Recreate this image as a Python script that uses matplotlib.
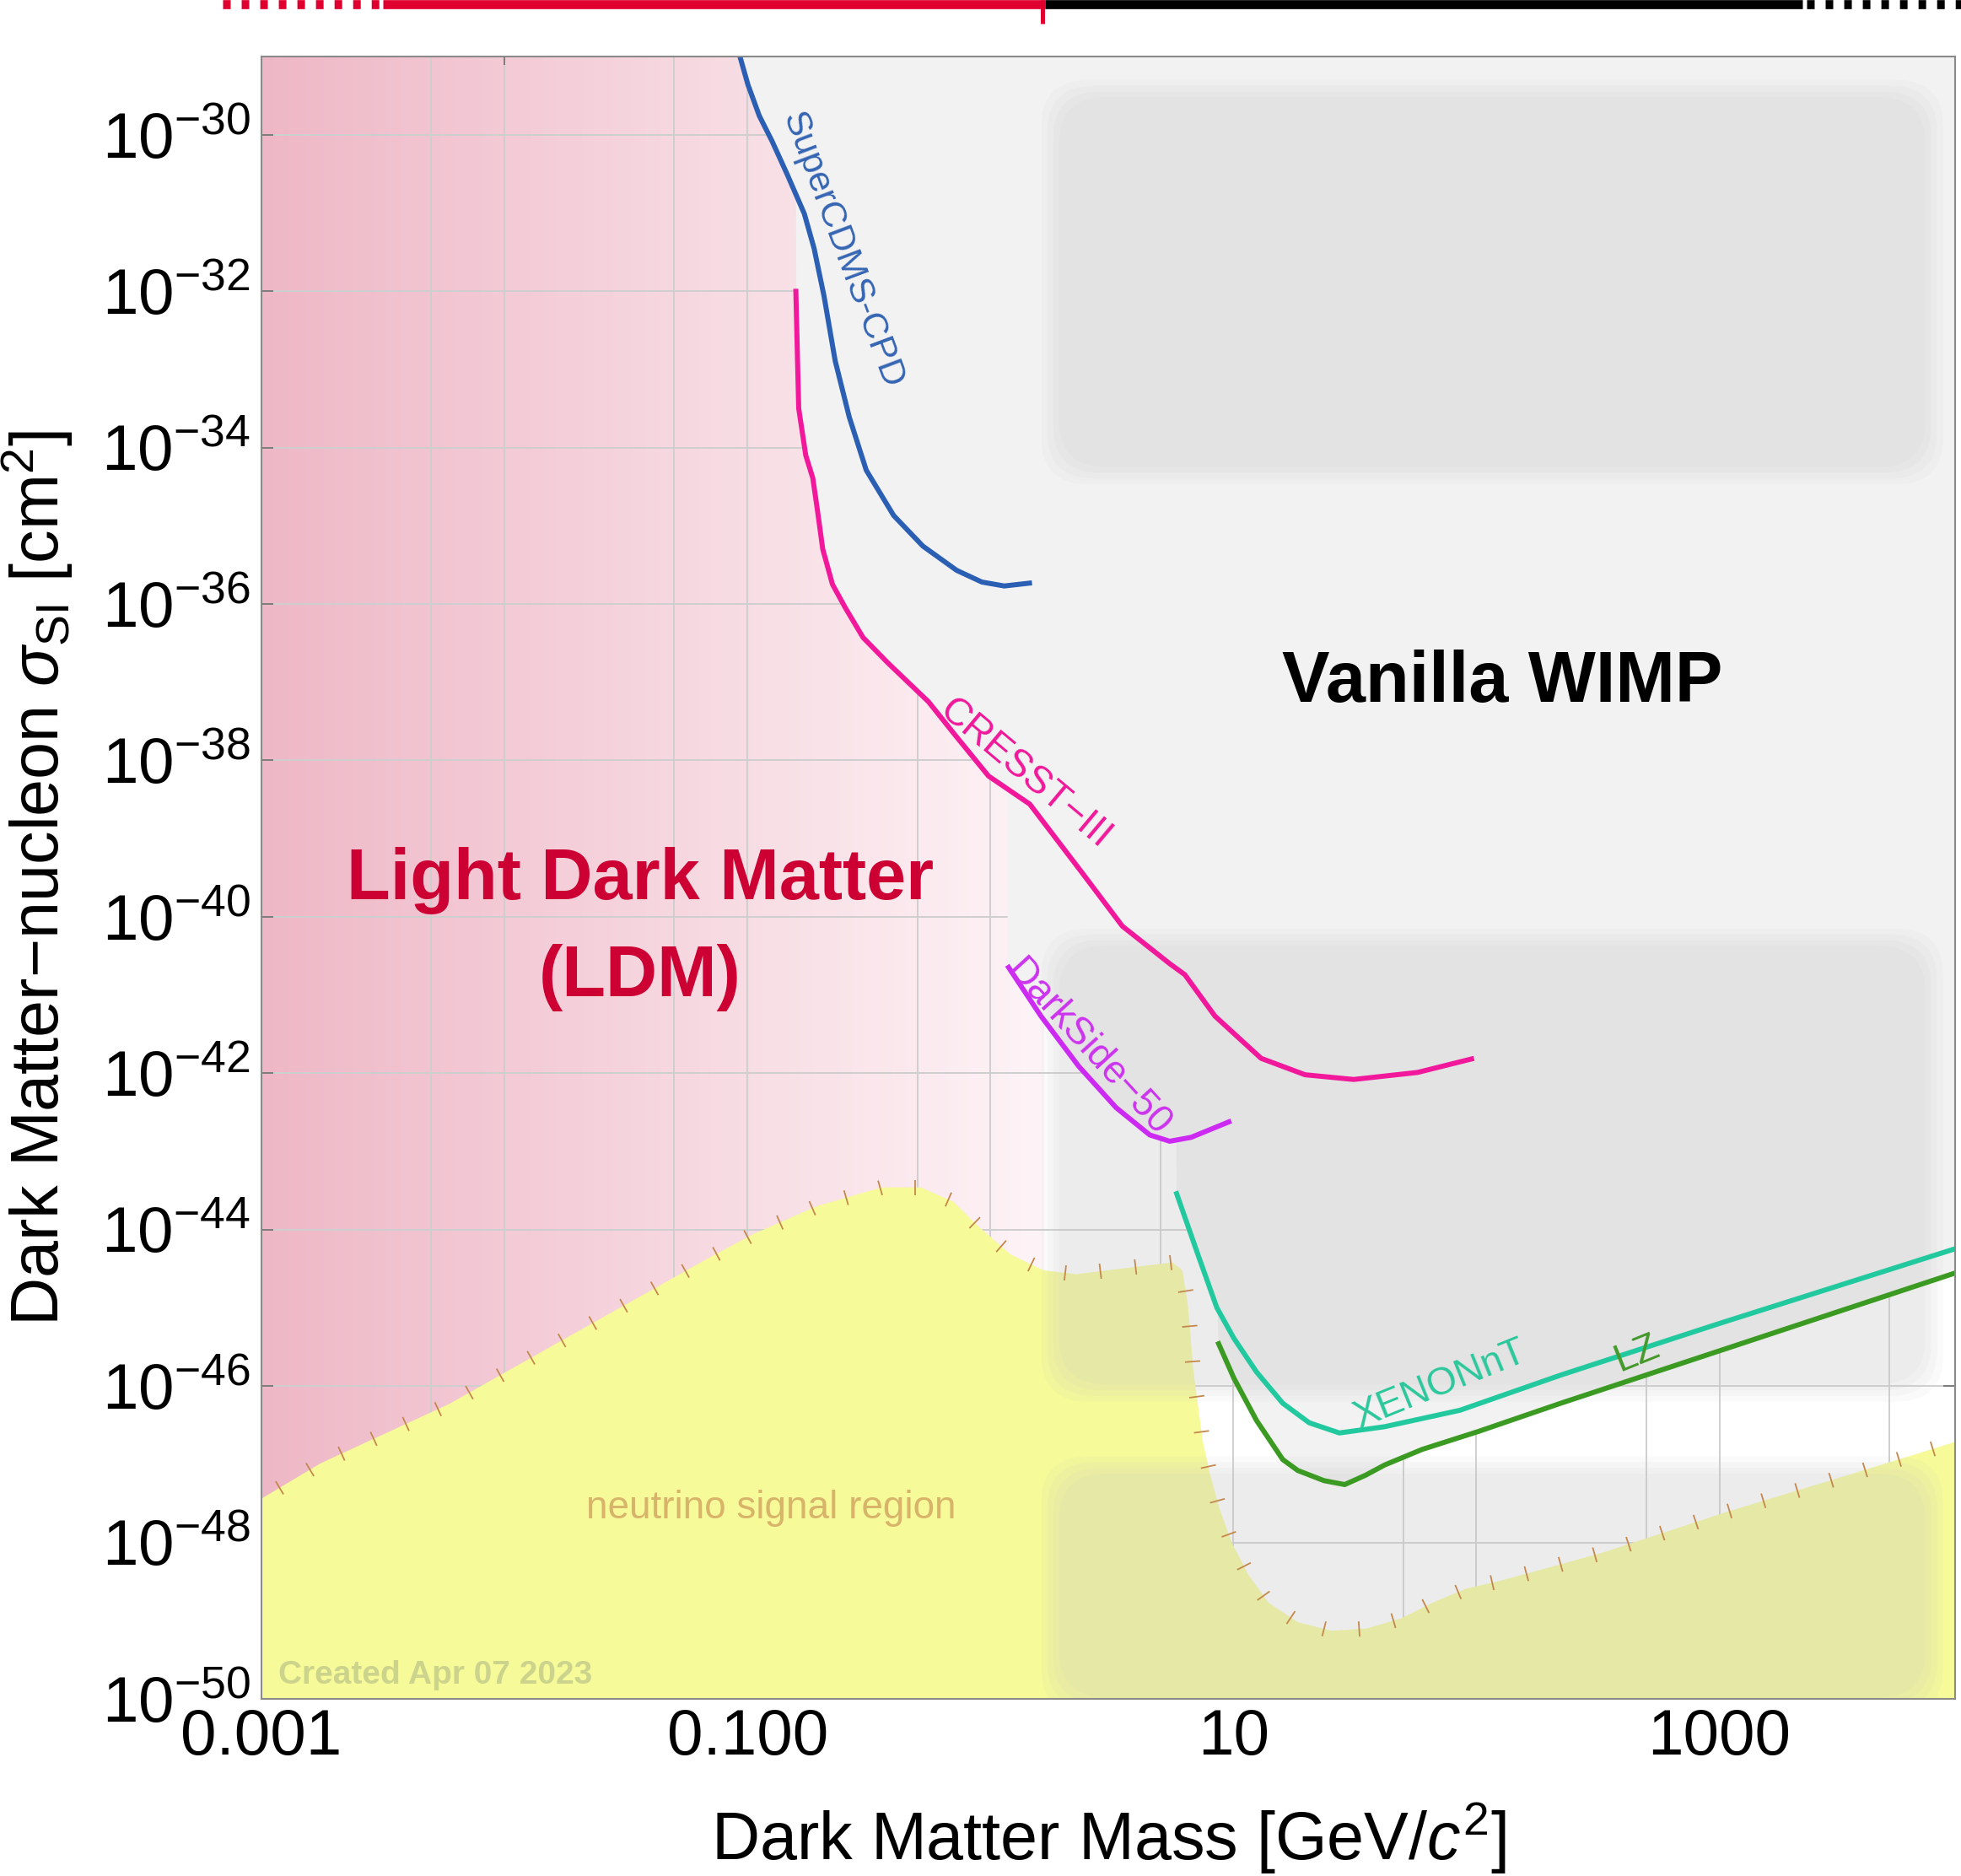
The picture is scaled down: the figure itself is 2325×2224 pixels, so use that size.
import numpy as np
import matplotlib.pyplot as plt
from matplotlib.patches import FancyBboxPatch
from matplotlib.collections import LineCollection
from matplotlib.colors import LinearSegmentedColormap
from matplotlib.transforms import blended_transform_factory
from matplotlib.ticker import FixedLocator, FixedFormatter, NullLocator, NullFormatter

plt.rcParams['font.family'] = ['Liberation Sans', 'DejaVu Sans']
plt.rcParams['mathtext.fontset'] = 'custom'
plt.rcParams['mathtext.rm'] = 'Liberation Sans'
plt.rcParams['mathtext.it'] = 'Liberation Sans:italic'
plt.rcParams['mathtext.bf'] = 'Liberation Sans:bold'

# all values are log10(mass / GeV) and log10(sigma / cm^2)
scdms_m = [-1.040, -0.998, -0.951, -0.899, -0.836, -0.766, -0.726, -0.685, -0.639,
           -0.581, -0.511, -0.398, -0.278, -0.139, -0.035, 0.057, 0.171]
scdms_s = [-28.90, -29.36, -29.76, -30.08, -30.51, -31.01, -31.45, -32.06, -32.89,
           -33.61, -34.29, -34.87, -35.26, -35.57, -35.72, -35.77, -35.73]

cresst_m = [-0.801, -0.789, -0.760, -0.731, -0.712, -0.690, -0.650, -0.597, -0.524,
            -0.420, -0.255, -0.147, -0.008, 0.162, 0.378, 0.543, 0.738, 0.800, 0.924,
            1.047, 1.114, 1.295, 1.495, 1.758, 1.990]
cresst_s = [-31.97, -33.50, -34.10, -34.39, -34.80, -35.30, -35.75, -36.05, -36.43,
            -36.76, -37.25, -37.67, -38.20, -38.56, -39.44, -40.12, -40.60, -40.74, -41.27,
            -41.62, -41.81, -42.02, -42.08, -41.99, -41.81]

ds_m = [0.069, 0.208, 0.363, 0.517, 0.656, 0.738, 0.826, 0.991]
ds_s = [-40.62, -41.27, -41.91, -42.44, -42.79, -42.87, -42.82, -42.61]

xe_m = [0.763, 0.854, 0.932, 1.002, 1.095, 1.203, 1.312, 1.436, 1.622, 1.932, 2.347, 3.0, 3.975]
xe_s = [-43.51, -44.32, -45.00, -45.39, -45.82, -46.22, -46.47, -46.60, -46.52, -46.31,
        -45.86, -45.20, -44.24]

lz_m = [0.935, 1.002, 1.095, 1.203, 1.265, 1.373, 1.458, 1.544, 1.622, 1.777, 2.009, 2.347, 3.0, 3.975]
lz_s = [-45.43, -45.90, -46.44, -46.94, -47.08, -47.21, -47.26, -47.14, -47.01, -46.81,
        -46.58, -46.22, -45.55, -44.55]

# neutrino floor
nu_m = [-3.0, -2.758, -2.228, -1.697, -1.164, -0.978, -0.714, -0.447, -0.287, -0.154, -0.049,
        0.084, 0.218, 0.352, 0.563, 0.749, 0.790, 0.812, 0.823, 0.834, 0.854, 0.873, 0.904,
        0.943, 0.993, 1.059, 1.144, 1.265, 1.405, 1.549, 1.691, 1.820, 1.958, 2.099, 2.241,
        2.520, 3.040, 3.560, 3.975]
nu_s = [-47.44, -46.99, -46.23, -45.30, -44.37, -44.06, -43.70, -43.46, -43.46, -43.64, -43.96,
        -44.32, -44.52, -44.57, -44.49, -44.42, -44.52, -44.95, -45.33, -45.78, -46.24, -46.69,
        -47.13, -47.57, -48.00, -48.40, -48.77, -49.02, -49.13, -49.10, -48.97, -48.77, -48.59,
        -48.49, -48.37, -48.13, -47.60, -47.11, -46.71]

# mass ranges
ldm_range = (-3.0, 0.22)
wimp_boxes = [(0.21, 3.92, -34.47, -29.30),
              (0.21, 3.92, -46.20, -40.15),
              (0.21, 3.92, -50.20, -46.90)]
bar_ldm_dash = (-3.16, -2.51)
bar_ldm = (-2.50, 0.225)
bar_wimp = (0.225, 3.34)
bar_wimp_dash = (3.36, 4.05)
bar_split = 0.215

xlo, xhi = -3.0, 3.97
ylo, yhi = -50.0, -29.0

fig = plt.figure(figsize=(23.25, 22.24), dpi=100)
ax = fig.add_axes([310 / 2325, 1 - 2014 / 2224, 2008 / 2325, 1947 / 2224])
ax.set_xscale('log')
ax.set_yscale('log')
ax.set_xlim(10**xlo, 10**xhi)
ax.set_ylim(10**ylo, 10**yhi)
ax.set_facecolor('white')

# LDM pink band (gradient in log mass)
cmap = LinearSegmentedColormap.from_list('ldm', [(238/255, 183/255, 198/255), (253/255, 243/255, 246/255)])
gx = np.linspace(ldm_range[0], ldm_range[1], 201)
ax.pcolormesh(10**gx, [10**ylo, 10**yhi], np.linspace(0, 1, 200)[None, :], cmap=cmap,
              shading='flat', zorder=0, rasterized=True)

# grid
for d in range(-3, 4):
    for k in (1, 5):
        v = k * 10.0**d
        if 10**xlo < v < 10**xhi:
            ax.axvline(v, color='#cfcfcf', lw=1.4, zorder=1)
for e in range(-48, -29, 2):
    ax.axhline(10.0**e, color='#cfcfcf', lw=1.4, zorder=1)

# excluded region = area above the union of limits
limits = [(scdms_m, scdms_s), (cresst_m, cresst_s), (ds_m, ds_s), (xe_m, xe_s), (lz_m, lz_s)]
g = np.linspace(xlo, xhi, 4000)
env = np.full_like(g, np.inf)
for lm, ls in limits:
    inside = (g >= lm[0]) & (g <= lm[-1])
    env[inside] = np.minimum(env[inside], np.interp(g[inside], lm, ls))
has = np.isfinite(env)
ax.fill_between(10**g, 10**np.where(has, env, -28.0), 1e-28, where=has,
                color='#f2f2f2', lw=0, zorder=2)

# neutrino region
nx = np.concatenate([nu_m, [nu_m[-1], nu_m[0]]])
ny = np.concatenate([nu_s, [-51, -51]])
ax.fill(10**nx, 10**ny, color='#f6fa98', lw=0, zorder=2)

# WIMP boxes (soft grey overlay)
def frac(lx, ly):
    return (lx - xlo) / (xhi - xlo), (ly - ylo) / (yhi - ylo)

for x0, x1, y0, y1 in wimp_boxes:
    fx0, fy0 = frac(x0, y0)
    fx1, fy1 = frac(x1, y1)
    for k in range(4):
        ins = 0.0035 * k
        ax.add_patch(FancyBboxPatch((fx0 + ins, fy0 + ins), fx1 - fx0 - 2 * ins, fy1 - fy0 - 2 * ins,
                                    boxstyle='round,pad=0,rounding_size=0.028',
                                    transform=ax.transAxes, fc='#c8c8c8', ec='none',
                                    alpha=0.089, zorder=3))

# limit curves
curve_styles = [(scdms_m, scdms_s, '#2b5fb4'), (cresst_m, cresst_s, '#f2189b'),
                (ds_m, ds_s, '#cc2af2'), (xe_m, xe_s, '#22c99e'), (lz_m, lz_s, '#3a9a22')]
for lm, ls, c in curve_styles:
    ax.plot(10**np.array(lm), 10**np.array(ls), color=c, lw=4.3, zorder=5,
            solid_capstyle='butt', solid_joinstyle='round')

# hatch ticks along the neutrino floor
pts = ax.transData.transform(np.column_stack([10**np.array(nu_m), 10**np.array(nu_s)]))
seg = np.diff(pts, axis=0)
seglen = np.hypot(seg[:, 0], seg[:, 1])
cum = np.concatenate([[0], np.cumsum(seglen)])
s = np.arange(25, cum[-1], 42)
idx = np.clip(np.searchsorted(cum, s) - 1, 0, len(seg) - 1)
px = np.interp(s, cum, pts[:, 0])
py = np.interp(s, cum, pts[:, 1])
t = seg[idx] / seglen[idx][:, None]
nrm = np.column_stack([-t[:, 1], t[:, 0]])
inv = ax.transData.inverted()
hatch = []
for i in range(len(s)):
    p = np.array([px[i], py[i]])
    hatch.append(inv.transform(np.vstack([p - 9 * nrm[i], p + 9 * nrm[i]])))
ax.add_collection(LineCollection(hatch, colors='#c4884c', linewidths=1.3, zorder=4))

# texts
ax.text(10**2.108, 10**-37.25, 'Vanilla WIMP', fontsize=61, fontweight='bold',
        ha='center', va='baseline', zorder=6)
ax.text(10**-1.441, 10**-39.77, 'Light Dark Matter', fontsize=61, fontweight='bold',
        color='#cc0033', ha='center', va='baseline', zorder=6)
ax.text(10**-1.441, 10**-41.02, '(LDM)', fontsize=61, fontweight='bold',
        color='#cc0033', ha='center', va='baseline', zorder=6)
ax.text(10**-0.903, 10**-47.69, 'neutrino signal region', fontsize=33, color='#d8b46a',
        ha='center', va='baseline', zorder=6)
ax.text(0.0098, 0.0092, 'Created Apr 07 2023', transform=ax.transAxes, fontsize=28,
        fontweight='bold', color='#cbd38c', ha='left', va='baseline', zorder=6)

lab = dict(ha='center', va='center', rotation_mode='anchor', zorder=6)
ax.text(10**-0.612, 10**-31.47, 'SuperCDMS-CPD', color='#3565b3', rotation=-69.5,
        fontsize=31, **lab)
ax.text(10**0.143, 10**-38.17, 'CRESST\u2212III', color='#f0189a', rotation=-40,
        fontsize=33, **lab)
ax.text(10**0.403, 10**-41.68, 'DarkSide\u221250', color='#cc33ee', rotation=-47.6,
        fontsize=33, **lab)
ax.text(10**1.854, 10**-45.98, 'XENONnT', color='#2cc79c', rotation=22, fontsize=33, **lab)
ax.text(10**2.660, 10**-45.59, 'LZ', color='#44992a', rotation=22, fontsize=33, **lab)

# mass range bar above the plot
btr = blended_transform_factory(ax.transData, fig.transFigure)
yb = 1 - 5.3 / 2224
bw = 7.7
ax.plot([10**bar_ldm_dash[0], 10**bar_ldm_dash[1]], [yb, yb], color='#e0002f', lw=bw,
        dashes=(0.84, 1.22), dash_capstyle='butt', transform=btr, clip_on=False)
ax.plot([10**bar_ldm[0], 10**bar_ldm[1]], [yb, yb], color='#e0002f', lw=bw,
        solid_capstyle='butt', transform=btr, clip_on=False)
ax.plot([10**bar_wimp[0], 10**bar_wimp[1]], [yb, yb], color='black', lw=bw,
        solid_capstyle='butt', transform=btr, clip_on=False)
ax.plot([10**bar_wimp_dash[0], 10**bar_wimp_dash[1]], [yb, yb], color='black', lw=bw,
        dashes=(0.84, 1.22), dash_capstyle='butt', transform=btr, clip_on=False)
ax.plot([10**bar_split, 10**bar_split], [1.0, 1 - 28 / 2224], color='#e0002f', lw=3.6,
        solid_capstyle='butt', transform=btr, clip_on=False)

# axes, ticks, labels
for sp in ax.spines.values():
    sp.set_color('#8a8a8a')
    sp.set_linewidth(1.5)
    sp.set_zorder(7)

ax.xaxis.set_major_locator(FixedLocator([1e-3, 1e-1, 1e1, 1e3]))
ax.xaxis.set_major_formatter(FixedFormatter(['0.001', '0.100', '10', '1000']))
ax.xaxis.set_minor_locator(FixedLocator([1e-2, 1.0, 1e2]))
ax.xaxis.set_minor_formatter(NullFormatter())
ax.yaxis.set_major_locator(FixedLocator([10.0**e for e in range(-50, -29, 2)]))
ax.yaxis.set_major_formatter(FixedFormatter(['$10^{%d}$' % e for e in range(-50, -29, 2)]))
ax.yaxis.set_minor_locator(NullLocator())
ax.yaxis.set_minor_formatter(NullFormatter())
ax.tick_params(axis='both', which='both', direction='in', top=True, right=True,
               colors='#666666', labelcolor='black', width=1.1, labelsize=55)
ax.tick_params(axis='x', which='major', length=14.4, pad=8)
ax.tick_params(axis='x', which='minor', length=7.2)
ax.tick_params(axis='y', which='major', length=10, pad=9.4)

ax.set_xlabel('Dark Matter Mass [GeV/$c^2$]', fontsize=57)
ax.xaxis.set_label_coords(0.5, -0.062)
ax.set_ylabel('Dark Matter\u2212nucleon $\\sigma_{\\mathrm{SI}}$ [cm$^2$]', fontsize=57)
ax.yaxis.set_label_coords(-0.11, 0.5)

fig.savefig('out.png', dpi=100)
